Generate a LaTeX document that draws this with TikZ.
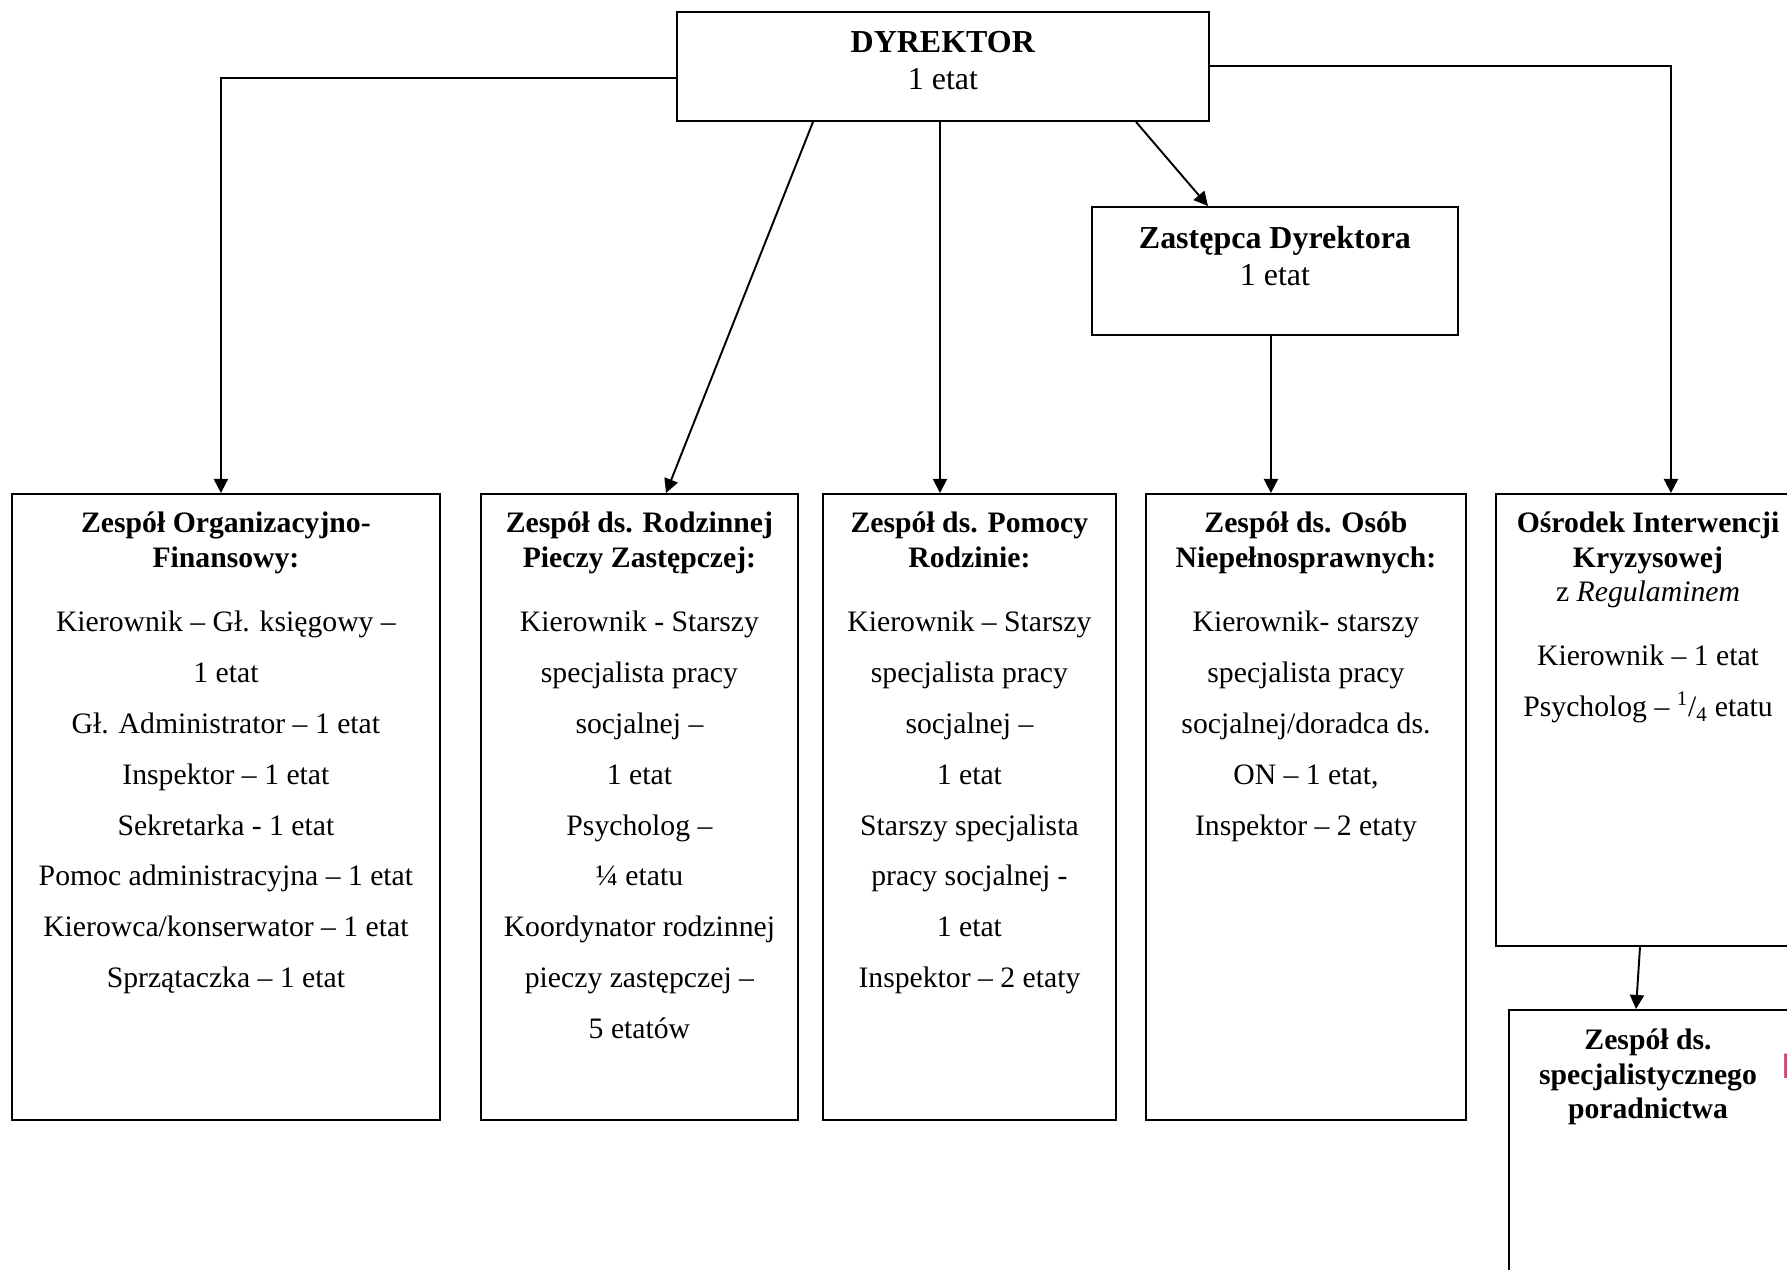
\documentclass[tikz,border=0pt]{standalone}
\usepackage{fontspec}
\setmainfont{Liberation Serif}
\usetikzlibrary{arrows.meta,calc}
\definecolor{stamppink}{RGB}{226,60,120}

\tikzset{
  unit/.style={draw,line width=1.1pt,inner sep=0pt,anchor=north west},
  headtext/.style={font=\fontsize{18.2}{21}\selectfont,align=center,anchor=north,inner sep=0pt},
  boxtitle/.style={font=\bfseries\fontsize{16.9}{19.4}\selectfont,align=center,anchor=north,inner sep=0pt},
  staff/.style={font=\fontsize{16.9}{28.9}\selectfont,align=center,anchor=north,inner sep=0pt},
  link/.style={line width=1.1pt,-{Triangle[length=8pt,width=8pt]}}
}

\begin{document}
\begin{tikzpicture}[x=0.02cm,y=-0.02cm]
  \useasboundingbox (0,0) rectangle (1787,1270);
  \clip (0,0) rectangle (1787,1270);

  % top of the chart
  \node[unit,minimum width=10.64cm,minimum height=2.18cm] (dyr) at (676,11) {};
  \node[headtext] (dyrtxt) at ($(dyr.north)+(0,20)$) {\textbf{DYREKTOR}\\1 etat};
  \node[unit,minimum width=7.32cm,minimum height=2.56cm] (zast) at (1091,206) {};
  \node[headtext] (zasttxt) at ($(zast.north)+(0,20)$) {\textbf{Zastępca Dyrektora}\\1 etat};

  % teams
  \node[unit,minimum width=8.56cm,minimum height=12.52cm] (org) at (11,493) {};
  \node[boxtitle] (orgtitle) at ($(org.north)+(0,19)$) {Zespół Organizacyjno-\\Finansowy:};
  \node[staff] (orgstaff) at ($(org.north)+(0,118)$) {Kierownik – Gł. księgowy –\\1 etat\\Gł. Administrator – 1 etat\\Inspektor – 1 etat\\Sekretarka - 1 etat\\Pomoc administracyjna – 1 etat\\Kierowca/konserwator – 1 etat\\Sprzątaczka – 1 etat};

  \node[unit,minimum width=6.34cm,minimum height=12.52cm] (rodz) at (480,493) {};
  \node[boxtitle] (rodztitle) at ($(rodz.north)+(0,19)$) {Zespół ds. Rodzinnej\\Pieczy Zastępczej:};
  \node[staff] (rodzstaff) at ($(rodz.north)+(0,118)$) {Kierownik - Starszy\\specjalista pracy\\socjalnej –\\1 etat\\Psycholog –\\¼ etatu\\Koordynator rodzinnej\\pieczy zastępczej –\\5 etatów};

  \node[unit,minimum width=5.86cm,minimum height=12.52cm] (pomoc) at (822,493) {};
  \node[boxtitle] (pomoctitle) at ($(pomoc.north)+(0,19)$) {Zespół ds. Pomocy\\Rodzinie:};
  \node[staff] (pomocstaff) at ($(pomoc.north)+(0,118)$) {Kierownik – Starszy\\specjalista pracy\\socjalnej –\\1 etat\\Starszy specjalista\\pracy socjalnej -\\1 etat\\Inspektor – 2 etaty};

  \node[unit,minimum width=6.40cm,minimum height=12.52cm] (on) at (1145,493) {};
  \node[boxtitle] (ontitle) at ($(on.north)+(0,19)$) {Zespół ds. Osób\\Niepełnosprawnych:};
  \node[staff] (onstaff) at ($(on.north)+(0,118)$) {Kierownik- starszy\\specjalista pracy\\socjalnej/doradca ds.\\ON – 1 etat,\\Inspektor – 2 etaty};

  \node[unit,minimum width=6.12cm,minimum height=9.04cm] (kryz) at (1495,493) {};
  \node[boxtitle] (kryztitle) at ($(kryz.north west)+(153,19)$) {Ośrodek Interwencji\\Kryzysowej\\{\mdseries z \textit{Regulaminem}}};
  \node[staff] (kryzstaff) at ($(kryz.north west)+(153,152)$) {Kierownik – 1 etat\\Psycholog – \textsuperscript{1}/\textsubscript{4} etatu};

  \node[unit,minimum width=5.74cm,minimum height=5.82cm] (spec) at (1508,1009) {};
  \node[boxtitle] (spectitle) at ($(spec.north west)+(140,20)$) {Zespół ds.\\specjalistycznego\\poradnictwa};
  \node[font=\sffamily\fontsize{20}{20}\selectfont,text=stamppink,anchor=west,inner sep=0pt] (stamp) at (1781,1066) {P};

  % connectors
  \coordinate (dyrmid) at ($(dyr.south west)+(264,0)$);
  \draw[link] ($(dyr.west)+(0,12)$) -| ($(org.north)+(-5,0)$);
  \draw[link] ($(dyr.south west)+(137,0)$) -- ($(rodz.north west)+(186,0)$);
  \draw[link] (dyrmid) -- (dyrmid |- pomoc.north);
  \draw[link] ($(dyr.south west)+(460,0)$) -- ($(zast.north west)+(117,0)$);
  \draw[link] ($(zast.south)+(-4,0)$) -- ($(zast.south |- on.north)+(-4,0)$);
  \draw[link] (dyr.east) -| ($(kryz.north)+(22,0)$);
  \draw[link] ($(kryz.south west)+(145,0)$) -- ($(spec.north west)+(128,0)$);
\end{tikzpicture}
\end{document}
